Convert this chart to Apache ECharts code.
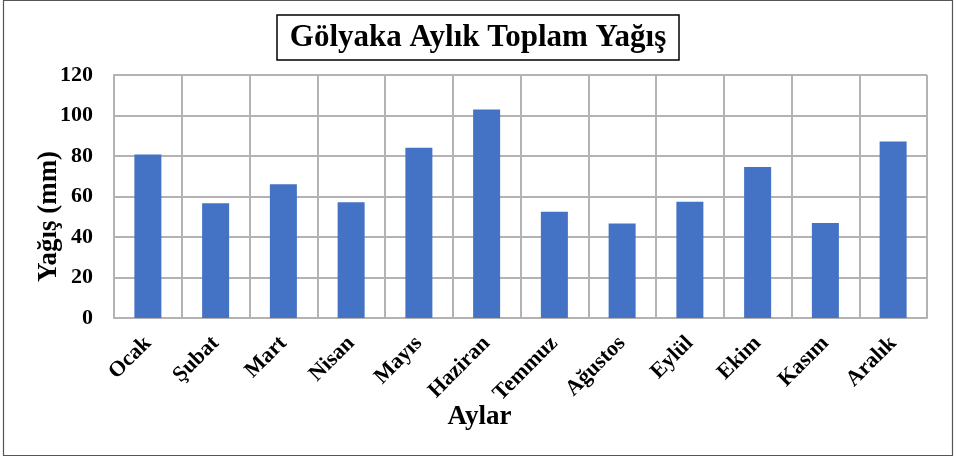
<!DOCTYPE html>
<html>
<head>
<meta charset="utf-8">
<script src="https://cdn.jsdelivr.net/npm/echarts@6/dist/echarts.min.js"></script>
<style>
  html, body { margin: 0; padding: 0; background: #fff; }
  #chart { width: 956px; height: 457px; }
</style>
</head>
<body>
<div id="chart"></div>
<script>
// aylar ve aylik toplam yagis (mm)
const months = ['Ocak', 'Şubat', 'Mart', 'Nisan', 'Mayıs', 'Haziran', 'Temmuz', 'Ağustos', 'Eylül', 'Ekim', 'Kasım', 'Aralık']
const rainfall = [80.7, 56.7, 66.1, 57.1, 84.1, 103.0, 52.5, 46.7, 57.4, 74.6, 46.9, 87.1]
const yTicks = [0, 20, 40, 60, 80, 100, 120]

const serif = '"Liberation Serif", "Times New Roman", serif'
const gridColor = '#b4b2b2'

const chart = echarts.init(document.getElementById('chart'), null, { renderer: 'canvas' })

const option = {
  backgroundColor: '#fff',
  animation: false,
  title: {
    text: 'Gölyaka Aylık Toplam Yağış',
    left: 'center',
    top: 15,
    padding: [7, 13, 7, 13],
    borderColor: '#000',
    borderWidth: 1.5,
    textStyle: {
      fontFamily: serif,
      fontWeight: 'bold',
      fontSize: 31,
      color: '#000'
    }
  },
  graphic: [{
    type: 'rect',
    shape: { x: 3.5, y: 0.5, width: 949, height: 455 },
    style: { fill: 'none', stroke: '#555', lineWidth: 1.2 },
    silent: true
  }],
  grid: {
    left: 114,
    right: 29,
    top: 75,
    bottom: 139,
    containLabel: false
  },
  xAxis: {
    type: 'category',
    data: months,
    boundaryGap: true,
    name: 'Aylar',
    nameLocation: 'middle',
    nameGap: 86,
    nameMoveOverlap: false,
    nameTextStyle: {
      fontFamily: serif,
      fontWeight: 'bold',
      fontSize: 27,
      color: '#000',
      padding: [0, 82, 0, 0]
    },
    axisLine: { show: true, lineStyle: { color: gridColor, width: 2 } },
    axisTick: { show: false },
    splitLine: { show: true, lineStyle: { color: gridColor, width: 2 } },
    axisLabel: {
      rotate: 45,
      interval: 0,
      margin: 22,
      fontFamily: serif,
      fontWeight: 'bold',
      fontSize: 22,
      color: '#000'
    }
  },
  yAxis: {
    type: 'value',
    min: yTicks[0],
    max: yTicks[yTicks.length - 1],
    interval: yTicks[1] - yTicks[0],
    name: 'Yağış (mm)',
    nameLocation: 'middle',
    nameGap: 51,
    nameMoveOverlap: false,
    nameTextStyle: {
      fontFamily: serif,
      fontWeight: 'bold',
      fontSize: 27,
      color: '#000',
      padding: [0, 40, 0, 0]
    },
    axisLine: { show: true, lineStyle: { color: gridColor, width: 2 } },
    axisTick: { show: false },
    splitLine: { show: true, lineStyle: { color: gridColor, width: 2 } },
    axisLabel: {
      margin: 21,
      fontFamily: serif,
      fontWeight: 'bold',
      fontSize: 22,
      color: '#000'
    }
  },
  series: [{
    type: 'bar',
    data: rainfall,
    barWidth: 27,
    itemStyle: { color: '#4472c4' }
  }]
}

chart.setOption(option)
</script>
</body>
</html>
